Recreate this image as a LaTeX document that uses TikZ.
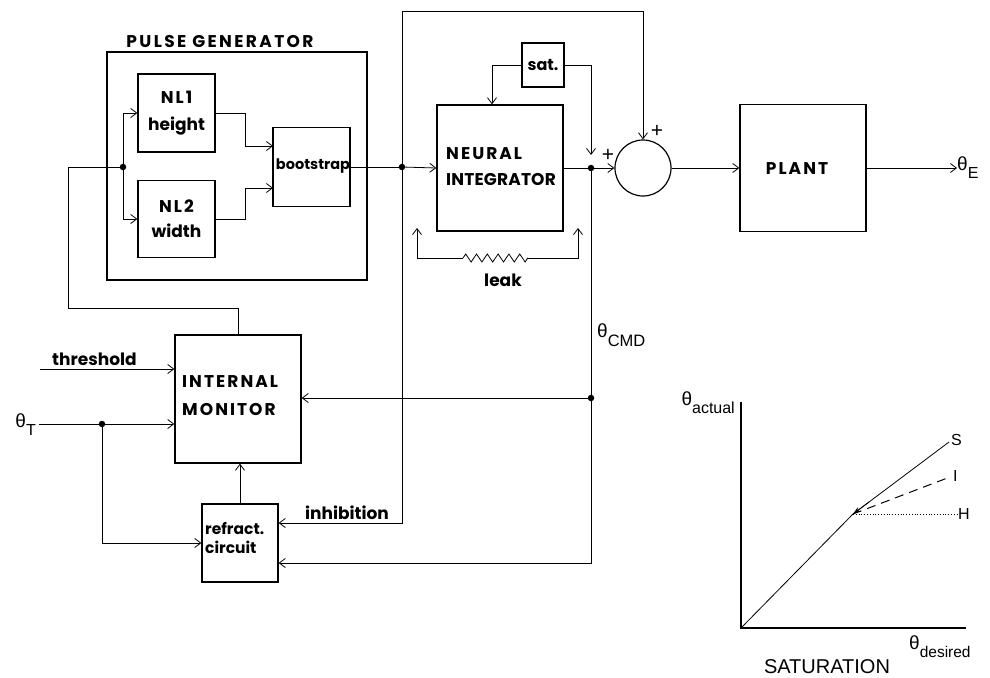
\documentclass[tikz,border=0pt]{standalone}
\usepackage{fontspec}
\setmainfont{Liberation Sans}
\newfontfamily\blab{Poppins}
\newfontfamily\bcap{Poppins}[LetterSpace=12]
\newfontfamily\bcapw{Poppins}[LetterSpace=14]
\newfontfamily\bcapn{Poppins}[LetterSpace=1]
\usetikzlibrary{arrows.meta,decorations.pathmorphing,calc}
\begin{document}
\begin{tikzpicture}[x=1pt,y=-1pt,
  box/.style={draw, line width=1.3pt, inner sep=0pt},
  ln/.style={line width=0.8pt},
  arr/.style={ln, -{Straight Barb[length=6pt,width=9pt,line width=0.8pt]}},
  jdot/.style={circle, fill, inner sep=0pt, minimum size=6.5pt},
  lbl/.style={font=\blab\bfseries\fontsize{17}{27}\selectfont, align=center, inner sep=0pt},
  capl/.style={font=\bcap\bfseries\fontsize{17}{27}\selectfont, align=left, inner sep=0pt},
  th/.style={font=\fontsize{19}{20}\selectfont, inner sep=0pt},
  subl/.style={font=\fontsize{16}{18}\selectfont, inner sep=0pt}
]
\useasboundingbox (0,0) rectangle (990,677);

% ---- pulse generator ----
\node[box, minimum width=260pt, minimum height=228pt] (pg) at (237,166) {};
\node[capl, font=\bcapw\bfseries\fontsize{17}{20}\selectfont] (pgt) at (220,42) {PULSE GENERATOR};
\node[box, minimum width=77pt, minimum height=78pt, lbl] (nl1) at (176.5,113) {{\bcap NL1}\\height};
\node[box, minimum width=77pt, minimum height=77pt, lbl, font=\blab\bfseries\fontsize{17}{25}\selectfont] (nl2) at (176.5,219) {{\bcap NL2}\\width};
\node[box, minimum width=77pt, minimum height=79pt] (boot) at (311.5,167) {};
\node[lbl, font=\blab\bfseries\fontsize{14.5}{16}\selectfont] (boott) at (313,166) {bootstrap};
\node[jdot] (j1) at (123,167) {};
\coordinate (b1) at (273,146);
\coordinate (b2) at (273,188);

% ---- neural integrator ----
\node[box, minimum width=126pt, minimum height=126pt] (ni) at (500,168) {};
\node[capl, anchor=west, font=\bcap\bfseries\fontsize{17}{26}\selectfont] (nit) at (446,167) {NEURAL\\{\bcapn INTEGRATOR}};
\node[box, minimum width=42pt, minimum height=44pt, lbl, font=\blab\bfseries\fontsize{16}{18}\selectfont] (sat) at (543,65) {sat.};
\node[jdot] (j2) at (402,167) {};
\node[jdot] (j3) at (591,168) {};
\node[circle, draw, line width=1.2pt, minimum size=56pt, inner sep=0pt] (sum) at (643,168) {};
\node[font=\fontsize{21}{22}\selectfont, inner sep=0pt] (p1) at (608,155) {+};
\node[font=\fontsize{21}{22}\selectfont, inner sep=0pt] (p2) at (657,131) {+};
\coordinate (t1) at (402,11);
\coordinate (satend) at (591,155);
\coordinate (lkA) at (417,228);
\coordinate (lkB) at (578,228);
\coordinate (lk1) at (463,258);
\coordinate (lk2) at (528,258);
\node[lbl] (leak) at (503,280) {leak};

% ---- plant ----
\node[box, minimum width=126pt, minimum height=127pt] (plant) at (803,168) {};
\node[capl] (plantt) at (797,169) {PLANT};
\node[th, anchor=west] (thE) at (957,168) {θ\raisebox{-8pt}{\fontsize{16}{18}\selectfont E}};

% ---- monitor & refract ----
\node[box, minimum width=126pt, minimum height=128pt] (mon) at (238,399) {};
\node[capl, anchor=west, font=\bcap\bfseries\fontsize{17}{28}\selectfont] (mont) at (182,396) {INTERNAL\\MONITOR};
\node[box, minimum width=76pt, minimum height=78pt] (ref) at (240,543) {};
\node[lbl, anchor=west, align=left, font=\blab\bfseries\fontsize{15.5}{19.5}\selectfont] (reft) at (205,538) {refract.\\circuit};
\node[lbl, anchor=south west] (thr) at (52,366) {threshold};
\node[lbl, anchor=south west] (inh) at (305,520) {inhibition};
\node[th, anchor=east] (thT) at (36,425) {θ\raisebox{-8pt}{\fontsize{16}{18}\selectfont T}};
\node[th, anchor=west] (thC) at (597,335) {θ\raisebox{-9pt}{\fontsize{16.5}{18}\selectfont CMD}};
\node[jdot] (j4) at (591,398) {};
\node[jdot] (j5) at (102,424) {};
\coordinate (c1) at (68,308);
\coordinate (c2) at (68,167);
\coordinate (thin) at (40,369);
\coordinate (tin) at (39,424);
\coordinate (inhc) at (402,523);
\coordinate (bt) at (591,563);

% ---- connectors ----
\draw[ln] (mon.north) |- (c1) -- (c2) -- (j1);
\draw[arr] (j1) |- (nl1.west);
\draw[arr] (j1) |- (nl2.west);
\draw[arr] (nl1.east) -- ++(30,0) |- (b1);
\draw[arr] (nl2.east) -- ++(30,0) |- (b2);
\draw[ln] (boot.east) -- (j2);
\draw[arr] (j2) -- (ni.west);
\draw[arr] (j2) -- (t1) -| (sum.north);
\draw[arr] (j2) -- (inhc) -- (inhc -| ref.east);
\draw[arr] (sat.west) -| ([xshift=-8pt]ni.north);
\draw[arr] (sat.east) -| (satend);
\draw[ln] (ni.east) -- (j3);
\draw[arr] (j3) -- (sum.west);
\draw[ln] (j3) -- (j4);
\draw[arr] (j4) -- (j4 -| mon.east);
\draw[arr] (j4) -- (bt) -- (bt -| ref.east);
\draw[arr] (sum.east) -- (plant.west);
\draw[arr] (plant.east) -- (thE.west);
\draw[arr] (lk1) -| (lkA);
\draw[arr] (lk2) -| (lkB);
\draw[ln, decorate, decoration={zigzag, segment length=10.8pt, amplitude=4pt}] (lk1) -- (lk2);
\draw[arr] (thin) -- (thin -| mon.west);
\draw[arr] (tin) -- (tin -| mon.west);
\draw[arr] (j5) |- (ref.west);
\draw[arr] (ref.north) -- (ref.north |- mon.south);

% ---- saturation graph ----
\coordinate (o) at (741,628);
\coordinate (ytop) at (741,402);
\coordinate (xend) at (966,628);
\coordinate (knee) at (853,514);
\coordinate (sE) at (949,442);
\coordinate (iE) at (950,477);
\coordinate (hE) at (957,514);
\draw[line width=1.3pt] (ytop) -- (o) -- (xend);
\draw[ln] (o) -- (knee) -- (sE);
\draw[ln, -{Stealth[length=8pt,width=5pt]}] ($(knee)+(16,-12)$) -- (knee);
\draw[line width=1pt, dash pattern=on 9pt off 6pt] (knee) -- (iE);
\draw[line width=0.8pt, dotted] (knee) -- (hE);
\node[subl, anchor=west] (S) at (951,440) {S};
\node[subl, anchor=west] (I) at (953,476) {I};
\node[subl, anchor=west] (H) at (958,514) {H};
\node[th, anchor=east] (thA) at (735,403) {θ\raisebox{-8pt}{\fontsize{16}{18}\selectfont actual}};
\node[th, anchor=west] (thD) at (909,647) {θ\raisebox{-8pt}{\fontsize{15.5}{18}\selectfont desired}};
\node[font=\fontsize{20}{22}\selectfont, inner sep=0pt] (satl) at (827,667) {SATURATION};
\end{tikzpicture}
\end{document}
